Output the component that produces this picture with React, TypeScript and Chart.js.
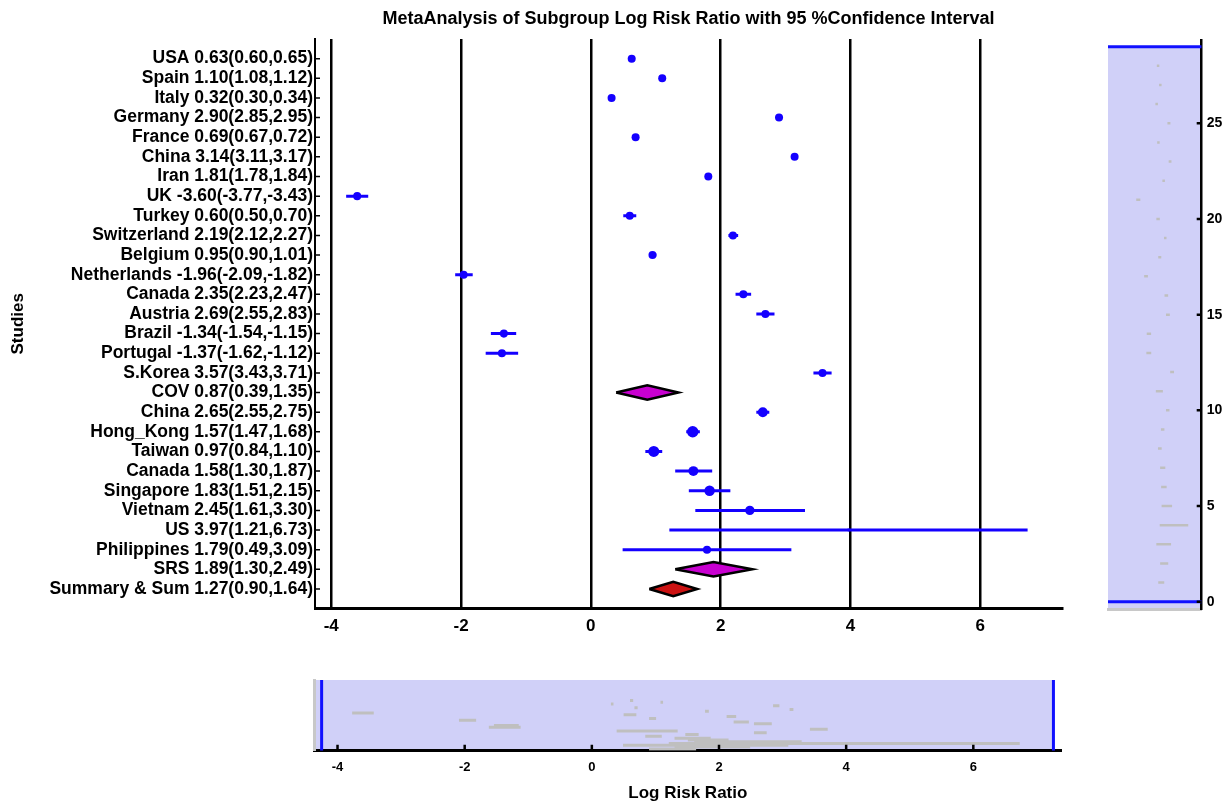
import React, { useEffect, useRef } from 'react';
import { Chart, registerables } from 'chart.js';

Chart.register(...registerables);

// ---------------- data ----------------
const studyNames = [
  'USA', 'Spain', 'Italy', 'Germany', 'France', 'China', 'Iran', 'UK', 'Turkey',
  'Switzerland', 'Belgium', 'Netherlands', 'Canada', 'Austria', 'Brazil', 'Portugal',
  'S.Korea', 'COV', 'China', 'Hong_Kong', 'Taiwan', 'Canada', 'Singapore', 'Vietnam',
  'US', 'Philippines', 'SRS', 'Summary & Sum',
];
const logRiskRatio = [
  0.63, 1.10, 0.32, 2.90, 0.69, 3.14, 1.81, -3.60, 0.60, 2.19, 0.95, -1.96, 2.35, 2.69,
  -1.34, -1.37, 3.57, 0.87, 2.65, 1.57, 0.97, 1.58, 1.83, 2.45, 3.97, 1.79, 1.89, 1.27,
];
const ciLower = [
  0.60, 1.08, 0.30, 2.85, 0.67, 3.11, 1.78, -3.77, 0.50, 2.12, 0.90, -2.09, 2.23, 2.55,
  -1.54, -1.62, 3.43, 0.39, 2.55, 1.47, 0.84, 1.30, 1.51, 1.61, 1.21, 0.49, 1.30, 0.90,
];
const ciUpper = [
  0.65, 1.12, 0.34, 2.95, 0.72, 3.17, 1.84, -3.43, 0.70, 2.27, 1.01, -1.82, 2.47, 2.83,
  -1.15, -1.12, 3.71, 1.35, 2.75, 1.68, 1.10, 1.87, 2.15, 3.30, 6.73, 3.09, 2.49, 1.64,
];
const rowType = [
  'study', 'study', 'study', 'study', 'study', 'study', 'study', 'study', 'study',
  'study', 'study', 'study', 'study', 'study', 'study', 'study', 'study', 'subgroup',
  'study', 'study', 'study', 'study', 'study', 'study', 'study', 'study', 'subgroup', 'overall',
];
// relative study weights (%), drive the marker area
const studyWeights = [
  5.9, 5.9, 5.9, 5.9, 5.9, 5.9, 5.9, 5.9, 5.9, 5.9, 5.9, 5.9, 5.9, 5.9, 5.9, 5.9, 5.9, 0,
  9, 12, 11, 9, 10, 8, 0.8, 6, 0, 0,
];

// axis ranges
const viewX = [-4.25, 7.26];
const viewY = [0, 29];
const overviewX = [-4.37, 7.39];
const overviewY = [0, 39.4];
const sideX = [-10.02, 9.85];
const sideY = [-0.38, 29.35];
const mainXStep = 2;
const sideYStep = 5;

const chartTitle = 'MetaAnalysis of Subgroup Log Risk Ratio with 95 %Confidence Interval';
const yAxisTitle = 'Studies';
const xAxisTitle = 'Log Risk Ratio';

// ---------------- style ----------------
const FONT = "'Liberation Sans', Arial, Helvetica, sans-serif";
const BLUE = '#1400ff';
const VIEW_BLUE = '#1010ff';
const MAGENTA = '#c800d0';
const RED = '#cc1212';
const PANEL_FILL = '#d0d0f8';
const MARK_GRAY = '#bfbfbf';
const BORDER_GRAY = '#c8c8c8';
const DIAMOND_HALF = 0.37;

Chart.defaults.font.family = FONT;
Chart.defaults.color = '#000';

const rowOf = (i: number) => studyNames.length - i;
const fmt = (v: number) => v.toFixed(2);
const rowLabel = (v: number) => {
  const i = studyNames.length - v;
  if (!Number.isInteger(v) || i < 0 || i >= studyNames.length) return '';
  return `${studyNames[i]} ${fmt(logRiskRatio[i])}(${fmt(ciLower[i])},${fmt(ciUpper[i])})`;
};

const inwardTicks = {
  id: 'inwardTicks',
  afterDraw(chart: any, _args: any, opts: any) {
    if (!opts || !opts.axis) return;
    const scale = chart.scales[opts.axis];
    const { ctx, chartArea } = chart;
    ctx.save();
    ctx.strokeStyle = '#000';
    ctx.lineWidth = opts.width;
    ctx.beginPath();
    for (const t of scale.ticks) {
      const v = t.value;
      if (v < opts.lo || v > opts.hi) continue;
      const p = scale.getPixelForValue(v);
      if (opts.axis === 'x') {
        ctx.moveTo(p, chartArea.bottom);
        ctx.lineTo(p, chartArea.bottom - opts.length);
      } else if (opts.side === 'right') {
        ctx.moveTo(chartArea.right, p);
        ctx.lineTo(chartArea.right - opts.length, p);
      } else {
        ctx.moveTo(chartArea.left, p);
        ctx.lineTo(chartArea.left + opts.length, p);
      }
    }
    ctx.stroke();
    ctx.restore();
  },
};

const panelFill = {
  id: 'panelFill',
  beforeDraw(chart: any, _args: any, opts: any) {
    if (!opts || opts.xFrom === undefined) return;
    const { ctx } = chart;
    const xs = chart.scales.x;
    const ys = chart.scales.y;
    const x0 = xs.getPixelForValue(opts.xFrom);
    const x1 = xs.getPixelForValue(opts.xTo);
    const y0 = ys.getPixelForValue(opts.yFrom);
    const y1 = ys.getPixelForValue(opts.yTo);
    ctx.save();
    ctx.fillStyle = PANEL_FILL;
    ctx.fillRect(Math.min(x0, x1), Math.min(y0, y1), Math.abs(x1 - x0), Math.abs(y1 - y0));
    ctx.restore();
  },
};

const segment = (x0: number, y0: number, x1: number, y1: number, color: string, width: number, cap: string, order: number) => ({
  type: 'line',
  data: [{ x: x0, y: y0 }, { x: x1, y: y1 }],
  borderColor: color,
  borderWidth: width,
  borderCapStyle: cap,
  pointRadius: 0,
  pointHoverRadius: 0,
  fill: false,
  order,
});

function buildMain(): any {
  const dots = {
    type: 'scatter',
    data: studyNames.map((_, i) => ({ x: logRiskRatio[i], y: rowOf(i) })).filter((_, i) => rowType[i] === 'study'),
    pointRadius: studyWeights.filter((_, i) => rowType[i] === 'study').map((w) => 1.65 * Math.sqrt(w)),
    pointBackgroundColor: BLUE,
    pointBorderWidth: 0,
    order: 0,
  };
  const diamonds = studyNames
    .map((_, i) => i)
    .filter((i) => rowType[i] !== 'study')
    .map((i) => {
      const r = rowOf(i);
      return {
        type: 'line',
        data: [
          { x: ciLower[i], y: r },
          { x: logRiskRatio[i], y: r + DIAMOND_HALF },
          { x: ciUpper[i], y: r },
          { x: logRiskRatio[i], y: r - DIAMOND_HALF },
          { x: ciLower[i], y: r },
        ],
        borderColor: '#000',
        borderWidth: 2.5,
        borderJoinStyle: 'miter',
        backgroundColor: rowType[i] === 'overall' ? RED : MAGENTA,
        fill: 'shape',
        pointRadius: 0,
        order: 1,
      };
    });
  const ciLines = studyNames
    .map((_, i) => i)
    .filter((i) => rowType[i] === 'study')
    .map((i) => segment(ciLower[i], rowOf(i), ciUpper[i], rowOf(i), BLUE, 3, 'butt', 2));

  return {
    type: 'scatter',
    data: { datasets: [dots, ...diamonds, ...ciLines] },
    options: {
      animation: false,
      responsive: false,
      events: [],
      layout: { padding: { left: 0, right: 28, top: 0, bottom: 0 } },
      plugins: {
        legend: { display: false },
        tooltip: { enabled: false },
        title: {
          display: true,
          text: chartTitle,
          fullSize: false,
          color: '#000',
          font: { size: 18, weight: 'bold', family: FONT },
          padding: { top: 8, bottom: 9.4 },
        },
        inwardTicks: { axis: 'y', side: 'left', length: 5, width: 1.5, lo: 1, hi: studyNames.length },
      },
      scales: {
        x: {
          type: 'linear',
          min: viewX[0],
          max: viewX[1],
          afterFit: (s: any) => { s.height = 41.4; },
          grid: { color: '#000', lineWidth: 2.5, drawTicks: false },
          border: { color: '#000', width: 3 },
          ticks: {
            stepSize: mainXStep,
            includeBounds: false,
            padding: 8,
            color: '#000',
            font: { size: 17, weight: 'bold', family: FONT },
          },
        },
        y: {
          type: 'linear',
          min: viewY[0],
          max: viewY[1],
          afterFit: (s: any) => { s.width = 315; },
          grid: { display: false, drawTicks: false },
          border: { color: '#000', width: 2 },
          ticks: {
            stepSize: 1,
            autoSkip: false,
            includeBounds: false,
            padding: 2,
            color: '#000',
            font: { size: 17.5, weight: 'bold', family: FONT },
            callback: (v: any) => rowLabel(Number(v)),
          },
          title: {
            display: true,
            text: yAxisTitle,
            color: '#000',
            font: { size: 17, weight: 'bold', family: FONT },
            padding: { top: 8, bottom: 0 },
          },
        },
      },
    },
    plugins: [inwardTicks],
  };
}

function buildSide(): any {
  const marks = studyNames.map((_, i) =>
    segment(ciLower[i], rowOf(i), ciUpper[i], rowOf(i), MARK_GRAY, 2.5, 'square', 2));
  const viewLines = [
    segment(sideX[0], viewY[0], sideX[1], viewY[0], VIEW_BLUE, 3, 'butt', 1),
    segment(sideX[0], viewY[1], sideX[1], viewY[1], VIEW_BLUE, 3, 'butt', 1),
  ];
  return {
    type: 'scatter',
    data: { datasets: [...viewLines, ...marks] },
    options: {
      animation: false,
      responsive: false,
      events: [],
      layout: { padding: { left: 13, right: 0, top: 40, bottom: 0 } },
      plugins: {
        legend: { display: false },
        tooltip: { enabled: false },
        title: { display: false },
        inwardTicks: { axis: 'y', side: 'right', length: 5, width: 2.5, lo: 0, hi: 25 },
        panelFill: { xFrom: sideX[0], xTo: sideX[1], yFrom: sideY[0], yTo: viewY[1] },
      },
      scales: {
        x: {
          type: 'linear',
          min: sideX[0],
          max: sideX[1],
          afterFit: (s: any) => { s.height = 41; },
          ticks: { display: false },
          grid: { display: false, drawTicks: false },
          border: { color: BORDER_GRAY, width: 3 },
        },
        y: {
          type: 'linear',
          position: 'right',
          min: sideY[0],
          max: sideY[1],
          afterFit: (s: any) => { s.width = 27.3; },
          grid: { display: false, drawTicks: false },
          border: { color: '#000', width: 2.5 },
          ticks: {
            stepSize: sideYStep,
            includeBounds: false,
            padding: 5,
            color: '#000',
            font: { size: 14, weight: 'bold', family: FONT },
          },
        },
      },
    },
    plugins: [panelFill, inwardTicks],
  };
}

function buildBottom(): any {
  const marks = studyNames.map((_, i) =>
    segment(ciLower[i], rowOf(i), ciUpper[i], rowOf(i), MARK_GRAY, 3, 'butt', 2));
  const viewLines = [
    segment(viewX[0], overviewY[0], viewX[0], overviewY[1], VIEW_BLUE, 3, 'butt', 1),
    segment(viewX[1], overviewY[0], viewX[1], overviewY[1], VIEW_BLUE, 3, 'butt', 1),
  ];
  return {
    type: 'scatter',
    data: { datasets: [...viewLines, ...marks] },
    options: {
      animation: false,
      responsive: false,
      events: [],
      layout: { padding: { left: 0, right: 167.3, top: 25, bottom: 0 } },
      plugins: {
        legend: { display: false },
        tooltip: { enabled: false },
        title: { display: false },
        inwardTicks: { axis: 'x', length: 6, width: 2.5, lo: -100, hi: 100 },
        panelFill: { xFrom: overviewX[0], xTo: viewX[1], yFrom: overviewY[0], yTo: overviewY[1] },
      },
      scales: {
        x: {
          type: 'linear',
          min: overviewX[0],
          max: overviewX[1],
          afterFit: (s: any) => { s.height = 55.3; },
          grid: { display: false, drawTicks: false },
          border: { color: '#000', width: 3 },
          ticks: {
            stepSize: mainXStep,
            includeBounds: false,
            padding: 9,
            color: '#000',
            font: { size: 13, weight: 'bold', family: FONT },
          },
          title: {
            display: true,
            text: xAxisTitle,
            color: '#000',
            font: { size: 17, weight: 'bold', family: FONT },
            padding: { top: 0, bottom: 2 },
          },
        },
        y: {
          type: 'linear',
          min: overviewY[0],
          max: overviewY[1],
          afterFit: (s: any) => { s.width = 314; },
          ticks: { display: false },
          grid: { display: false, drawTicks: false },
          border: { color: BORDER_GRAY, width: 3 },
        },
      },
    },
    plugins: [panelFill, inwardTicks],
  };
}

function ChartCanvas({ build, left, top, width, height }: any) {
  const ref = useRef<HTMLCanvasElement | null>(null);
  useEffect(() => {
    if (!ref.current) return;
    const chart = new Chart(ref.current, build());
    return () => chart.destroy();
  }, [build]);
  return (
    <canvas
      ref={ref}
      width={width}
      height={height}
      style={{ position: 'absolute', left, top, width, height, display: 'block' }}
    />
  );
}

export default function App() {
  return (
    <div style={{ position: 'fixed', left: 0, top: 0, width: 1229, height: 806, background: '#fff', overflow: 'hidden' }}>
      <ChartCanvas build={buildMain} left={0} top={0} width={1090} height={650} />
      <ChartCanvas build={buildSide} left={1095} top={0} width={134} height={650} />
      <ChartCanvas build={buildBottom} left={0} top={655} width={1229} height={151} />
    </div>
  );
}
